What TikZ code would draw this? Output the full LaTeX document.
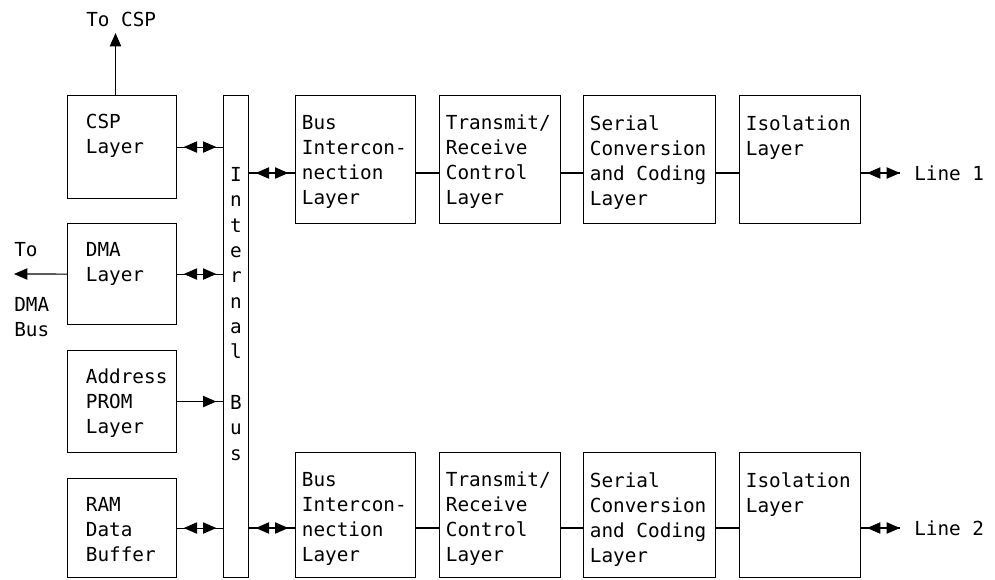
\documentclass[tikz,border=0pt]{standalone}
\usepackage{fontspec}
\setmonofont{DejaVu Sans Mono}
\usetikzlibrary{arrows.meta}

\newcommand\blockfont{\fontsize{14.5pt}{18.75pt}\selectfont\ttfamily}
\newcommand\busfont{\fontsize{14.5pt}{19pt}\selectfont\ttfamily}

\tikzset{
  block/.style={draw, rectangle, anchor=north west, inner sep=0pt, line width=0.8pt},
  blocktext/.style={font=\blockfont, align=left, inner sep=0pt, anchor=north west},
  wire/.style={line width=0.8pt},
  biwire/.style={wire, postaction={draw, <->, shorten <=5pt, shorten >=5pt}},
  uniwire/.style={wire, postaction={draw, ->, shorten >=5pt}},
}

\begin{document}
\begin{tikzpicture}[x=0.75pt, y=-0.75pt, >={Triangle[length=10pt,width=8.5pt]}]
\useasboundingbox (0,0) rectangle (995,579);

% left column
\node[block, minimum width=81.75pt, minimum height=77.25pt] (csp) at (67,95) {};
\node[block, minimum width=81.75pt, minimum height=75.75pt] (dma) at (67,223) {};
\node[block, minimum width=81.75pt, minimum height=76.5pt] (prom) at (67,350) {};
\node[block, minimum width=81.75pt, minimum height=74.25pt] (ram) at (67,478) {};
\node[blocktext] (csp-t) at ([xshift=14pt,yshift=-14pt]csp.north west) {CSP\\Layer};
\node[blocktext] (dma-t) at ([xshift=14pt,yshift=-14pt]dma.north west) {DMA\\Layer};
\node[blocktext] (prom-t) at ([xshift=14pt,yshift=-14pt]prom.north west) {Address\\PROM\\Layer};
\node[blocktext] (ram-t) at ([xshift=14pt,yshift=-14pt]ram.north west) {RAM\\Data\\Buffer};

% internal bus
\node[block, minimum width=18.75pt, minimum height=361.5pt] (ibus) at (223,95) {};
\node[blocktext, anchor=north, align=center, font=\busfont] (ibus-t)
  at ([yshift=-54pt]ibus.north) {I\\n\\t\\e\\r\\n\\a\\l\\ \mbox{} \\B\\u\\s};

% line 1 chain
\node[block, minimum width=90pt, minimum height=96pt] (bic1) at (295,95) {};
\node[block, minimum width=90.75pt, minimum height=96pt] (trc1) at (439,95) {};
\node[block, minimum width=99pt, minimum height=96pt] (scc1) at (583,95) {};
\node[block, minimum width=90.75pt, minimum height=96pt] (iso1) at (739,95) {};
\node[blocktext] (bic1-t) at ([xshift=5pt,yshift=-15pt]bic1.north west) {Bus\\Intercon-\\nection\\Layer};
\node[blocktext] (trc1-t) at ([xshift=5pt,yshift=-15pt]trc1.north west) {Transmit/\\Receive\\Control\\Layer};
\node[blocktext] (scc1-t) at ([xshift=5pt,yshift=-15pt]scc1.north west) {Serial\\Conversion\\and Coding\\Layer};
\node[blocktext] (iso1-t) at ([xshift=5pt,yshift=-15pt]iso1.north west) {Isolation\\Layer};

% line 2 chain
\node[block, minimum width=90pt, minimum height=93.75pt] (bic2) at (295,452) {};
\node[block, minimum width=90.75pt, minimum height=93.75pt] (trc2) at (439,452) {};
\node[block, minimum width=99pt, minimum height=93.75pt] (scc2) at (583,452) {};
\node[block, minimum width=90.75pt, minimum height=93.75pt] (iso2) at (739,452) {};
\node[blocktext] (bic2-t) at ([xshift=5pt,yshift=-15pt]bic2.north west) {Bus\\Intercon-\\nection\\Layer};
\node[blocktext] (trc2-t) at ([xshift=5pt,yshift=-15pt]trc2.north west) {Transmit/\\Receive\\Control\\Layer};
\node[blocktext] (scc2-t) at ([xshift=5pt,yshift=-15pt]scc2.north west) {Serial\\Conversion\\and Coding\\Layer};
\node[blocktext] (iso2-t) at ([xshift=5pt,yshift=-15pt]iso2.north west) {Isolation\\Layer};

% outside ends
\coordinate (r1) at (0,173);
\coordinate (r2) at (0,528);
\coordinate (tocsp) at (115.5,33);
\coordinate (todma) at (14,274);
\coordinate (line1) at (900,173);
\coordinate (line2) at (900,528);
\node[blocktext] (tocsp-t) at (86,12) {To CSP};
\node[blocktext] (todma-a) at (14,242) {To};
\node[blocktext] (todma-b) at (14,297) {DMA\\Bus};
\node[blocktext, anchor=west] (line1-t) at ([xshift=10.5pt]line1) {Line 1};
\node[blocktext, anchor=west] (line2-t) at ([xshift=10.5pt]line2) {Line 2};

% connectors
\draw[wire, ->] (csp.north -| tocsp) -- (tocsp);
\draw[wire, ->] (dma.west) -- (todma);
\draw[biwire] (csp.east) -- (ibus.west |- csp.east);
\draw[biwire] (dma.east) -- (ibus.west |- dma.east);
\draw[uniwire] (prom.east) -- (ibus.west |- prom.east);
\draw[biwire] (ram.east) -- (ibus.west |- ram.east);

\draw[biwire] (ibus.east |- r1) -- (bic1.west |- r1);
\draw[wire] (bic1.east |- r1) -- (trc1.west |- r1);
\draw[wire] (trc1.east |- r1) -- (scc1.west |- r1);
\draw[wire] (scc1.east |- r1) -- (iso1.west |- r1);
\draw[wire, postaction={draw, <->, shorten <=4.5pt}] (iso1.east |- r1) -- (line1);

\draw[biwire] (ibus.east |- r2) -- (bic2.west |- r2);
\draw[wire] (bic2.east |- r2) -- (trc2.west |- r2);
\draw[wire] (trc2.east |- r2) -- (scc2.west |- r2);
\draw[wire] (scc2.east |- r2) -- (iso2.west |- r2);
\draw[wire, postaction={draw, <->, shorten <=4.5pt}] (iso2.east |- r2) -- (line2);
\end{tikzpicture}
\end{document}
